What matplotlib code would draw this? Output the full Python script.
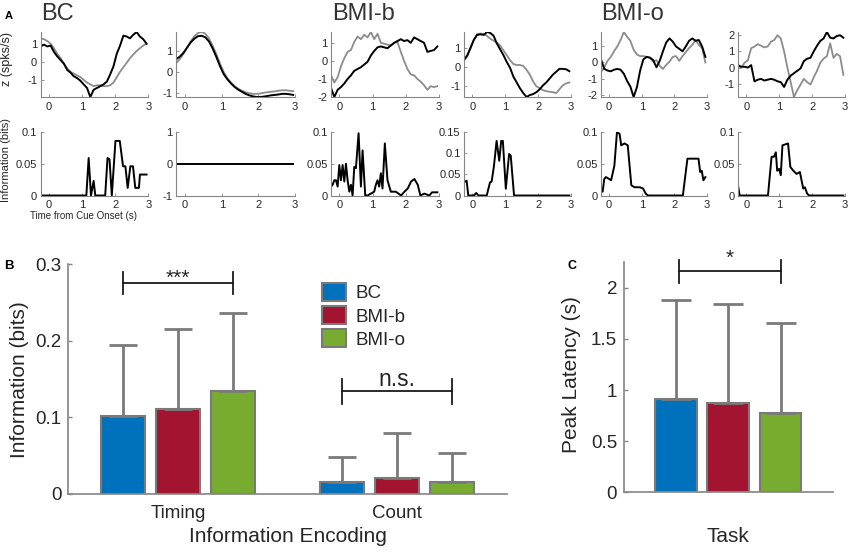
import matplotlib.pyplot as plt
import numpy as np
from matplotlib.ticker import MultipleLocator, FuncFormatter

plt.rcParams['font.family'] = ['Liberation Sans', 'DejaVu Sans']
plt.rcParams['axes.unicode_minus'] = False

W, H = 851, 553

# z-scored rates, one value every 0.1 s starting at -0.25 s
t = np.round(np.arange(-0.25, 2.96, 0.1), 2)

bc1_k = [0.85, 0.95, 0.85, 0.9, 0.55, 0.3, 0.1, -0.1, -0.45, -0.6, -0.8, -0.9, -1.05, -1.25, -1.45, -1.95,
         -1.55, -1.45, -1.35, -1.25, -1.1, -0.7, -0.25, 0.45, 0.9, 1.45, 1.4, 1.3, 1.5, 1.65, 1.4, 1.25, 1.0]
bc1_g = [1.3, 1.25, 1.15, 1.0, 0.75, 0.45, 0.2, -0.1, -0.35, -0.55, -0.65, -0.75, -0.85, -1.0, -1.15, -1.25,
         -1.35, -1.3, -1.3, -1.35, -1.35, -1.3, -1.15, -0.85, -0.55, -0.3, -0.05, 0.2, 0.4, 0.6, 0.75, 0.9, 1.0]
bc2_k = [0.6, 0.72, 0.9, 1.15, 1.4, 1.58, 1.7, 1.72, 1.65, 1.45, 1.12, 0.72, 0.28, -0.1, -0.35, -0.55,
         -0.72, -0.85, -0.95, -1.05, -1.12, -1.17, -1.2, -1.2, -1.18, -1.15, -1.12, -1.1, -1.08, -1.05, -1.05, -1.07, -1.1]
bc2_g = [0.4, 0.6, 0.85, 1.15, 1.45, 1.7, 1.85, 1.9, 1.82, 1.6, 1.25, 0.85, 0.4, 0.0, -0.3, -0.5,
         -0.68, -0.8, -0.9, -0.97, -1.02, -1.05, -1.05, -1.03, -1.0, -0.97, -0.95, -0.93, -0.9, -0.88, -0.88, -0.9, -0.92]
bmib1_k = [-1.5, -2.0, -1.6, -1.45, -1.25, -1.0, -0.8, -0.55, -0.45, -0.35, -0.2, -0.05, 0.3, 0.55, 0.75, 0.8,
           0.75, 0.7, 0.85, 1.0, 1.1, 1.2, 1.1, 1.15, 1.0, 1.3, 1.2, 1.1, 1.0, 0.5, 0.55, 0.6, 0.8]
bmib1_g = [-0.8, -1.2, -0.9, -0.3, 0.15, 0.5, 0.6, 1.05, 1.35, 1.2, 1.45, 1.3, 1.6, 1.2, 1.5, 1.0,
           0.95, 0.9, 0.85, 1.0, 1.05, 0.5, 0.0, -0.45, -0.75, -0.8, -1.0, -1.15, -1.35, -1.6, -1.4, -1.45, -1.4]
bmib2_k = [0.35, 0.6, 1.0, 1.4, 1.65, 1.68, 1.65, 1.8, 1.75, 1.6, 1.2, 0.9, 0.6, 0.25, -0.05, -0.5,
           -0.8, -1.1, -1.35, -1.55, -1.45, -1.4, -1.3, -1.15, -0.95, -0.8, -0.6, -0.4, -0.25, -0.1, -0.1, -0.12, -0.22]
bmib2_g = [0.35, 0.55, 0.95, 1.4, 1.7, 1.72, 1.7, 1.6, 1.45, 1.35, 1.25, 1.1, 0.85, 0.6, 0.35, 0.15,
           0.1, 0.1, 0.05, -0.15, -0.4, -0.75, -1.0, -1.1, -1.2, -1.25, -1.28, -1.3, -1.35, -1.15, -0.95, -0.85, -0.8]
bmio1_k = [0.2, -0.4, -0.5, -0.55, -0.45, -0.4, -0.45, -0.7, -1.15, -1.5, -2.15, -1.55, -0.5, 0.2, 0.35, 0.3,
           0.15, -0.3, 0.1, 0.7, 1.25, 1.5, 1.3, 1.0, 0.85, 0.7, 1.0, 1.35, 1.5, 1.35, 1.4, 1.0, 0.35]
bmio1_g = [-0.6, -0.3, 0.1, 0.35, 0.7, 1.0, 1.4, 1.9, 1.6, 1.35, 0.8, 0.5, 0.4, 0.4, 0.35, 0.3,
           0.05, 0.15, -0.2, -0.4, -0.15, 0.05, 0.35, 0.4, 0.1, 0.4, 0.65, 0.9, 1.1, 1.4, 1.1, 0.9, 0.0]
bmio2_k = [0.15, 0.05, 0.05, 0.0, 0.15, -0.85, -0.75, -0.7, -0.8, -0.75, -0.7, -0.75, -0.85, -0.9, -1.2, -0.75,
           -0.5, -0.35, -0.2, -0.05, 0.4, 0.55, 0.6, 1.0, 1.35, 1.65, 1.8, 2.2, 1.85, 1.8, 1.95, 2.0, 1.85]
bmio2_g = [0.1, 0.0, 0.3, 0.45, 1.2, 1.3, 1.45, 1.35, 1.25, 1.3, 1.6, 1.7, 2.0, 1.8, 1.0, 0.0,
           -0.9, -1.82, -1.4, -1.05, -0.7, -0.9, -1.05, -0.6, -0.2, 0.3, 0.55, 0.7, 1.5, 0.6, 0.85, 0.7, -0.45]

# mutual information over time (s, bits)
inf_bc1_t = [-0.25, 1.13, 1.2, 1.27, 1.35, 1.4, 1.7, 1.77, 1.83, 1.9, 2.01, 2.14, 2.24, 2.31, 2.38, 2.46,
             2.54, 2.61, 2.72, 2.75, 2.95]
inf_bc1_v = [0, 0, 0.059, 0, 0.023, 0, 0, 0.059, 0.057, 0, 0.086, 0.086, 0.046, 0.046, 0.012, 0.046,
             0.046, 0.012, 0.012, 0.033, 0.033]
inf_bc2_t = [-0.25, 2.95]
inf_bc2_v = [0, 0]
inf_bmib1_t = [-0.25, -0.2, -0.15, -0.1, -0.05, 0.0, 0.05, 0.1, 0.15, 0.2, 0.25, 0.3, 0.35, 0.4, 0.45, 0.5,
               0.58, 0.65, 0.7, 0.78, 0.85, 1.05, 1.1, 1.15, 1.2, 1.25, 1.3, 1.37, 1.45, 1.55, 1.7, 1.86,
               1.96, 2.06, 2.16, 2.26, 2.36, 2.44, 2.56, 2.71, 2.79, 2.95]
inf_bmib1_v = [0.014, 0.017, 0.024, 0.024, 0.014, 0.048, 0.024, 0.048, 0.022, 0.05, 0.024, 0.006, 0.017, 0.0, 0.045, 0.043,
               0.098, 0.014, 0.071, 0.0, 0.0, 0.006, 0.017, 0.024, 0.014, 0.035, 0.011, 0.082, 0.024, 0.006, 0.006, 0.0,
               0.006, 0.011, 0.022, 0.026, 0.017, 0.0, 0.003, 0.0, 0.005, 0.005]
inf_bmib2_t = [-0.25, -0.17, -0.12, 0.05, 0.12, 0.19, 0.44, 0.54, 0.59, 0.66, 0.74, 0.82, 0.88, 0.93, 1.02, 1.12,
               1.17, 1.27, 2.95]
inf_bmib2_v = [0.031, 0.035, 0.0, 0.0, 0.006, 0.0, 0.0, 0.031, 0.033, 0.07, 0.129, 0.082, 0.129, 0.129, 0.016, 0.098,
               0.094, 0.0, 0.0]
inf_bmio1_t = [-0.25, -0.2, -0.15, -0.1, 0.0, 0.06, 0.16, 0.24, 0.32, 0.37, 0.47, 0.57, 0.68, 0.78, 0.94, 1.04,
               1.12, 1.19, 2.26, 2.4, 2.74, 2.79, 2.84, 2.89, 2.95]
inf_bmio1_v = [0.008, 0.006, 0.026, 0.029, 0.026, 0.024, 0.047, 0.1, 0.097, 0.079, 0.082, 0.079, 0.016, 0.013, 0.013, 0.011,
               0.003, 0.0, 0.0, 0.058, 0.058, 0.037, 0.039, 0.024, 0.029]
inf_bmio2_t = [-0.25, -0.2, 0.66, 0.77, 0.84, 0.9, 0.94, 1.0, 1.05, 1.1, 1.27, 1.34, 1.43, 1.53, 1.63, 1.68,
               1.73, 1.78, 1.85, 1.91, 2.95]
inf_bmio2_v = [0.016, 0.0, 0.0, 0.061, 0.061, 0.068, 0.039, 0.042, 0.032, 0.079, 0.082, 0.045, 0.039, 0.034, 0.037, 0.024,
               0.011, 0.013, 0.003, 0.0, 0.0]

# panel B: information by encoding
encodings = ['Timing', 'Count']
tasks = ['BC', 'BMI-b', 'BMI-o']
info_bc = [0.102, 0.016]
info_bc_sd = [0.092, 0.032]
info_bmib = [0.111, 0.0205]
info_bmib_sd = [0.1045, 0.0595]
info_bmio = [0.1345, 0.0153]
info_bmio_sd = [0.1015, 0.0377]

# panel C: peak latency
lat_mean = [0.912, 0.873, 0.775]
lat_sd = [0.965, 0.965, 0.877]

task_colors = ['#0072BD', '#A2142F', '#77AC30']
spine_c = '#858585'
edge_c = '#7a7a7a'
txt_c = '#262626'
gfmt = FuncFormatter(lambda v, p: '%g' % v)


def add_px(left, top, w, h):
    return fig.add_axes([left / W, 1 - (top + h) / H, w / W, h / H])


def clean(ax, lw):
    for s in ['top', 'right']:
        ax.spines[s].set_visible(False)
    for s in ['left', 'bottom']:
        ax.spines[s].set_color(spine_c)
        ax.spines[s].set_linewidth(lw)


def style_small(ax):
    clean(ax, 0.8)
    ax.tick_params(direction='in', length=2, width=0.6, color=spine_c, labelcolor=txt_c, labelsize=8, pad=2.5)
    ax.tick_params(axis='x', pad=3.5)
    ax.set_xlim(-0.25, 3)
    ax.set_xticks([0, 1, 2, 3])
    ax.yaxis.set_major_formatter(gfmt)


fig = plt.figure(figsize=(W / 100, H / 100), dpi=100)

z_pairs = [(bc1_g, bc1_k), (bc2_g, bc2_k), (bmib1_g, bmib1_k), (bmib2_g, bmib2_k), (bmio1_g, bmio1_k), (bmio2_g, bmio2_k)]
info_curves = [(inf_bc1_t, inf_bc1_v), (inf_bc2_t, inf_bc2_v), (inf_bmib1_t, inf_bmib1_v),
               (inf_bmib2_t, inf_bmib2_v), (inf_bmio1_t, inf_bmio1_v), (inf_bmio2_t, inf_bmio2_v)]
lefts = [40.7, 176, 331, 464, 601, 738]
widths = [107.5, 119, 108, 107, 106, 107]
info_ylims = [(0, 0.1), (-1, 1), (0, 0.1), (0, 0.15), (0, 0.1), (0, 0.1)]
info_steps = [0.05, 1, 0.05, 0.05, 0.05, 0.05]

for i in range(6):
    g, k = z_pairs[i]
    ax = add_px(lefts[i], 32, widths[i], 65)
    ax.plot(t, g, color='#8c8c8c', lw=1.3)
    ax.plot(t, k, color='black', lw=1.4)
    style_small(ax)
    ax.set_ylim(min(min(g), min(k)), max(max(g), max(k)))
    ax.yaxis.set_major_locator(MultipleLocator(1))
    if i == 0:
        ax.set_ylabel('z (spks/s)', fontsize=9, color=txt_c)
        ax.yaxis.set_label_coords(13 / W, 1 - 59 / H, transform=fig.transFigure)

    ti, vi = info_curves[i]
    ax2 = add_px(lefts[i], 132, widths[i], 63.5)
    ax2.plot(ti, vi, color='black', lw=1.4)
    style_small(ax2)
    ax2.set_ylim(*info_ylims[i])
    ax2.yaxis.set_major_locator(MultipleLocator(info_steps[i]))
    if i == 0:
        ax2.set_ylabel('Information (bits)', fontsize=8, color=txt_c)
        ax2.yaxis.set_label_coords(11 / W, 1 - 160 / H, transform=fig.transFigure)
        ax2.set_xlabel('Time from Cue Onset (s)', fontsize=7, color=txt_c)
        ax2.xaxis.set_label_coords(83 / W, 1 - 211 / H, transform=fig.transFigure)

for name, x0 in [('BC', 41), ('BMI-b', 332), ('BMI-o', 601)]:
    fig.text(x0 / W, 1 - 14.5 / H, name, fontsize=17, color='#333333', ha='left', va='center')

# panel B
axB = add_px(68.3, 264.3, 438.4, 229.7)
xg = np.arange(len(encodings)) + 1
offs = [-0.25, 0, 0.25]
b_means = [info_bc, info_bmib, info_bmio]
b_sds = [info_bc_sd, info_bmib_sd, info_bmio_sd]
for i in range(3):
    axB.bar(xg + offs[i], b_means[i], width=0.2, color=task_colors[i], edgecolor=edge_c,
            linewidth=1.5, label=tasks[i], zorder=2)
    axB.errorbar(xg + offs[i], b_means[i], yerr=[np.zeros(2), b_sds[i]], fmt='none', ecolor=edge_c,
                 elinewidth=2, capsize=10, capthick=2, zorder=3)
clean(axB, 1.2)
axB.set_xlim(0.5, 2.5)
axB.set_ylim(0, 0.3)
axB.set_yticks([0, 0.1, 0.2, 0.3])
axB.yaxis.set_major_formatter(gfmt)
axB.set_xticks(xg)
axB.set_xticklabels(encodings)
axB.tick_params(direction='in', length=3, width=1, color=spine_c, labelcolor=txt_c, labelsize=13.5, pad=5)
axB.tick_params(axis='x', length=0, pad=8)
axB.set_ylabel('Information (bits)', fontsize=15, color=txt_c)
axB.yaxis.set_label_coords(29 / W, 1 - 379.5 / H, transform=fig.transFigure)
axB.set_xlabel('Information Encoding', fontsize=15, color=txt_c)
axB.xaxis.set_label_coords(287.5 / W, 1 - 527 / H, transform=fig.transFigure)
axB.legend(loc='upper left', bbox_to_anchor=(321.7 / W, 1 - 283 / H), bbox_transform=fig.transFigure,
           frameon=False, fontsize=13.5, handlelength=1.3, handleheight=1.1, handletextpad=0.5,
           labelspacing=0.2, borderpad=0, borderaxespad=0, labelcolor=txt_c)


def bracket(ax, x0, x1, y, ylo, yhi, label, ty, size):
    ax.plot([x0, x1], [y, y], color='#1a1a1a', lw=1.3, clip_on=False)
    ax.plot([x0, x0], [ylo, yhi], color='#1a1a1a', lw=1.3, clip_on=False)
    ax.plot([x1, x1], [ylo, yhi], color='#1a1a1a', lw=1.3, clip_on=False)
    ax.text((x0 + x1) / 2, ty, label, fontsize=size, color=txt_c, ha='center', va='baseline', clip_on=False)


bracket(axB, 0.75, 1.25, 0.2756, 0.261, 0.290, '***', 0.274, 15)
bracket(axB, 1.75, 2.25, 0.1345, 0.117, 0.150, 'n.s.', 0.1414, 16.5)

# panel C
axC = add_px(624, 262.3, 208.7, 230)
xc = np.arange(len(tasks)) + 1
axC.bar(xc, lat_mean, width=0.8, color=task_colors, edgecolor=edge_c, linewidth=1.5, zorder=2)
axC.errorbar(xc, lat_mean, yerr=[np.zeros(3), lat_sd], fmt='none', ecolor=edge_c,
             elinewidth=2, capsize=11, capthick=2, zorder=3)
clean(axC, 1.2)
axC.set_xlim(0, 4)
axC.set_ylim(0, 2.25)
axC.set_xticks([])
axC.yaxis.set_major_locator(MultipleLocator(0.5))
axC.yaxis.set_major_formatter(gfmt)
axC.tick_params(direction='in', length=3, width=1, color=spine_c, labelcolor=txt_c, labelsize=13.5, pad=5)
axC.set_ylabel('Peak Latency (s)', fontsize=15, color=txt_c)
axC.yaxis.set_label_coords(581 / W, 1 - 375 / H, transform=fig.transFigure)
axC.set_xlabel('Task', fontsize=15, color=txt_c)
axC.xaxis.set_label_coords(728.3 / W, 1 - 527 / H, transform=fig.transFigure)
bracket(axC, 1.06, 3.0, 2.163, 2.049, 2.277, '*', 2.232, 15)

for lab, x0, y0, fs in [('A', 9, 16, 8), ('B', 9, 266, 9.5), ('C', 572, 266, 9)]:
    fig.text(x0 / W, 1 - y0 / H, lab, fontsize=fs, fontweight='bold', ha='center', va='center')

fig.savefig('out.png', dpi=100)
